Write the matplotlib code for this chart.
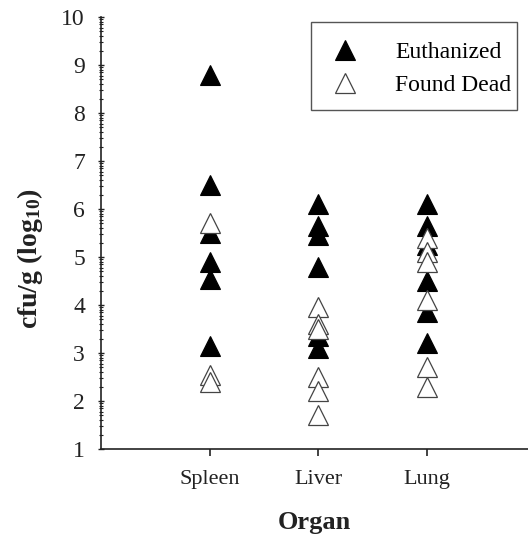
import numpy as np
import matplotlib
matplotlib.use("Agg")
import matplotlib.pyplot as plt
from matplotlib.ticker import FixedLocator
from matplotlib.patches import Rectangle

plt.rcParams['font.family'] = ['Liberation Serif', 'DejaVu Serif']
plt.rcParams['mathtext.fontset'] = 'custom'
plt.rcParams['mathtext.rm'] = 'Liberation Serif:bold'
plt.rcParams['mathtext.default'] = 'rm'

organs = ["Spleen", "Liver", "Lung"]
euthanized = [
    [8.8, 6.5, 5.5, 4.9, 4.55, 3.15],
    [6.1, 5.65, 5.45, 4.8, 3.35, 3.1],
    [6.1, 5.65, 5.25, 4.5, 3.85, 3.2],
]
found_dead = [
    [5.7, 2.55, 2.4],
    [3.95, 3.6, 3.5, 2.5, 2.2, 1.7],
    [5.4, 5.1, 4.9, 4.1, 2.7, 2.3],
]
y_ticks = list(range(1, 11))

W, H = 528, 541
fig = plt.figure(figsize=(W / 100, H / 100), dpi=100)
ax = fig.add_axes([101/W, 1 - 449/H, 1 - 101/W, (449 - 17)/H])

ms = 14
for i, vals in enumerate(euthanized):
    ax.plot([i + 1] * len(vals), vals, linestyle='none', marker='^', ms=ms,
            mfc='black', mec='black', mew=0.8, zorder=3,
            label='Euthanized' if i == 0 else None)
for i, vals in enumerate(found_dead):
    ax.plot([i + 1] * len(vals), vals, linestyle='none', marker='^', ms=ms,
            mfc='white', mec='#444444', mew=0.9, zorder=4,
            label='Found Dead' if i == 0 else None)

ax.set_xlim(0, 3.93)
ax.set_ylim(1, 10)
ax.set_xticks([1, 2, 3])
ax.set_xticklabels(organs, fontsize=16)
ax.set_yticks(y_ticks)
ax.set_yticklabels([str(t) for t in y_ticks], fontsize=17)
minor = [b + np.log10(k) for b in range(1, 10) for k in range(2, 10)]
ax.yaxis.set_minor_locator(FixedLocator(minor))

for s in ['top', 'right']:
    ax.spines[s].set_visible(False)
for s in ['left', 'bottom']:
    ax.spines[s].set_linewidth(1.2)
    ax.spines[s].set_color('#222222')

ax.tick_params(axis='y', which='major', direction='inout', length=5, width=1, pad=9, colors='#222222')
ax.tick_params(axis='y', which='minor', direction='inout', length=3, width=0.8, colors='#222222')
ax.tick_params(axis='x', which='major', direction='out', length=5, width=1.2, pad=10, colors='#222222')
ax.tick_params(labelcolor='#222222')

ax.set_xlabel('Organ', fontsize=19, fontweight='bold', labelpad=16, color='#222222')
ax.set_ylabel(r'cfu/g (log$_{10}$)', fontsize=20, fontweight='bold', color='#222222')
ax.yaxis.set_label_coords(-0.13, 0.44)

# legend (no frame) + manual frame
leg = ax.legend(loc='upper left', bbox_to_anchor=(333/W, 1 - 41.5/H),
                bbox_transform=fig.transFigure, fontsize=17, frameon=False,
                handletextpad=1.63, borderpad=0, labelspacing=0.48,
                handlelength=1.0, borderaxespad=0)
frame = Rectangle((311/W, 1 - 110/H), (517 - 311)/W, (110 - 22)/H,
                  transform=fig.transFigure, fill=False,
                  edgecolor='#555555', linewidth=1.0, zorder=10)
fig.patches.append(frame)

fig.savefig('out.png', dpi=100)
